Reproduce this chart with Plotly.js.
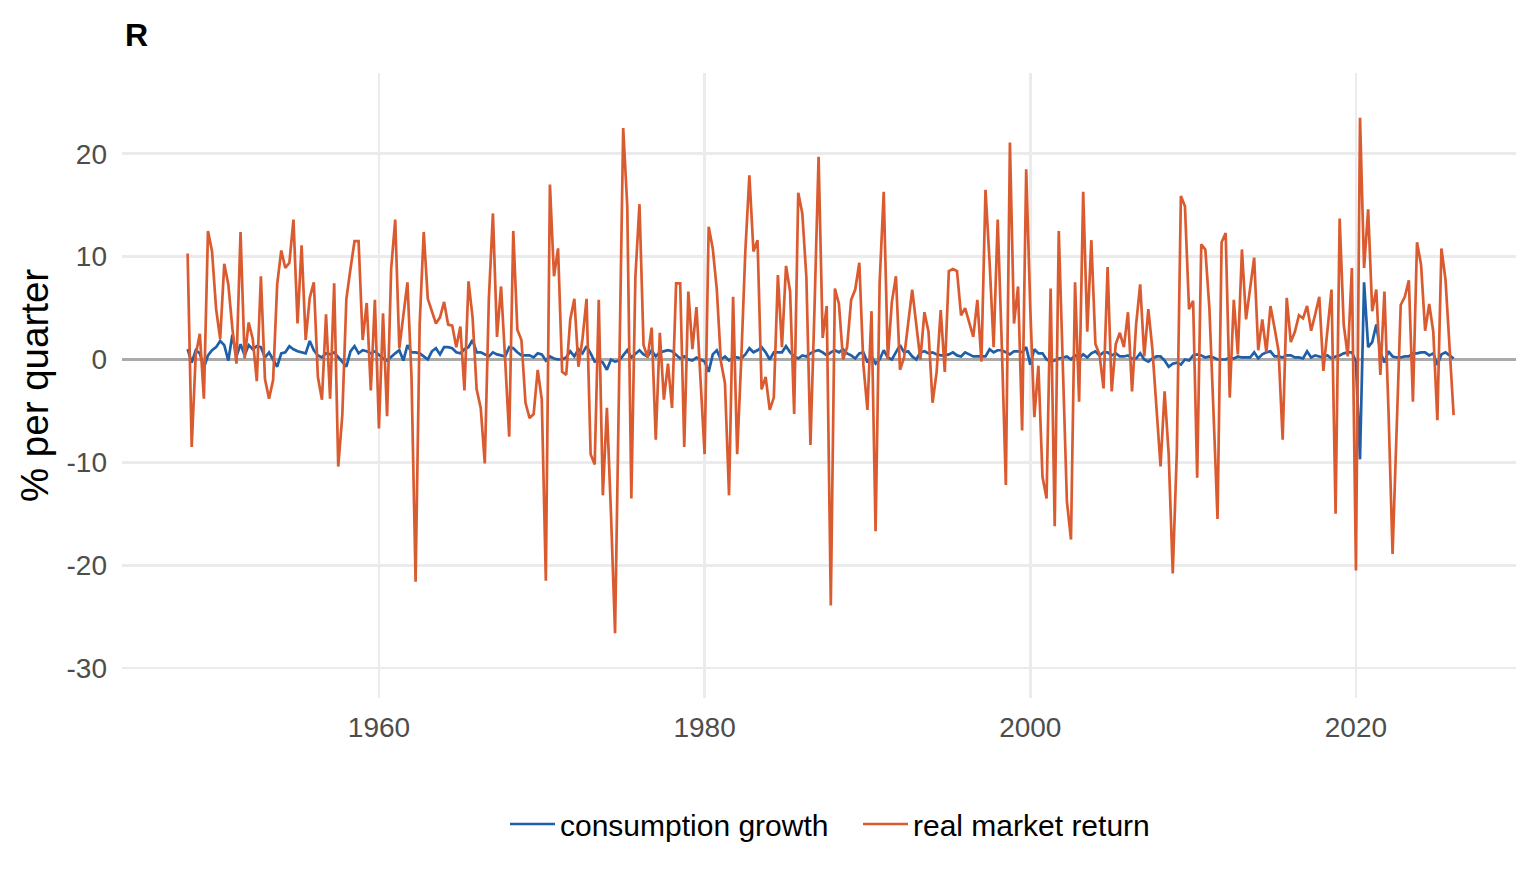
<!DOCTYPE html>
<html>
<head>
<meta charset="utf-8">
<script src="https://cdn.plot.ly/plotly-3.0.1.min.js"></script>
<style>
  html, body { margin: 0; padding: 0; background: #ffffff; }
  #chart { width: 1536px; height: 883px; }
</style>
</head>
<body>
<div id="chart"></div>
<script>
// quarterly observations, first one dated 1948.25, one value per quarter
const FIRST_QUARTER = 1948.25;

// consumption growth, % per quarter
const consumptionGrowth = [
  1.0, -0.3, 0.9, 0.6, -0.8, 0.4, 0.9, 1.2, 1.8, 1.4, -0.1, 2.4, 0.3, 1.5, 0.4, 1.4,
  1.0, 1.3, 1.2, 0.2, 0.7, 0.0, -0.7, 0.6, 0.7, 1.3, 1.0, 0.8, 0.7, 0.6, 1.8,
  0.9, 0.4, 0.2, 0.6, 0.5, 0.7, 0.2, -0.2, -0.7, 0.8, 1.3, 0.6, 0.9, 0.8, 0.6,
  0.8, 0.4, 0.1, -0.1, 0.3, 0.6, 0.9, -0.1, 1.4, 0.7, 0.7, 0.6, 0.3, 0.0, 0.8,
  1.1, 0.5, 1.2, 1.2, 1.1, 0.7, 0.6, 1.0, 1.2, 1.9, 0.7, 0.7, 0.5, 0.3, 0.7,
  0.5, 0.4, 0.3, 1.2, 1.1, 0.7, 0.4, 0.4, 0.4, 0.2, 0.6, 0.5, -0.1, 0.3, 0.1,
  0.0, 0.0, 0.2, 0.8, 0.3, 1.0, 0.6, 1.3, 0.6, -0.2, -0.1, -0.3, -1.0, 0.0, -0.2, -0.1,
  0.4, 0.9, 0.2, 0.6, 0.9, 0.5, 0.3, 0.9, 0.3, 0.7, 0.8, 0.9, 0.8, 0.4, 0.1, 0.3,
  0.0, -0.1, 0.2, 0.0, -0.2, -1.2, 0.5, 0.9, 0.0, 0.3, -0.1, 0.2, 0.2, 0.1, 0.5,
  1.1, 0.7, 0.9, 1.2, 0.7, 0.0, 0.7, 0.7, 0.7, 1.3, 0.7, 0.3, 0.1, 0.4,
  0.3, 0.6, 0.8, 0.9, 0.7, 0.4, 0.7, 0.9, 0.7, 1.0, 0.6, 0.4, 0.1, 0.6, 0.7, -0.3,
  0.3, -0.4, 0.0, 0.9, 0.2, 0.0, 0.7, 1.4, 0.7, 0.8, 0.3, 0.0, 0.7, 0.8, 0.6, 0.7,
  0.5, 0.4, 0.4, 0.5, 0.7, 0.4, 0.3, 0.7, 0.5, 0.3, 0.3, 0.3, 0.3, 1.0, 0.7, 0.9,
  0.9, 0.7, 0.5, 0.8, 0.8, 0.7, 1.2, -0.5, 1.0, 0.6, 0.6, 0.0, -0.2, -0.1, 0.1,
  0.2, 0.3, 0.0, 0.4, 0.1, 0.5, 0.2, 0.6, 0.8, 0.4, 0.7, 0.7, 0.4, 0.6, 0.3, 0.3,
  0.4, 0.1, 0.1, 0.6, 0.0, -0.2, 0.1, 0.3, 0.3, -0.1, -0.7, -0.4, -0.3, -0.5, 0.0,
  -0.1, 0.4, 0.5, 0.4, 0.2, 0.3, 0.2, 0.0, 0.0, 0.0, 0.2, 0.1, 0.3, 0.2, 0.2,
  0.2, 0.7, 0.1, 0.5, 0.7, 0.8, 0.3, 0.3, 0.2, 0.4, 0.4, 0.2, 0.2, 0.1,
  0.8, 0.2, 0.4, 0.3, 0.2, 0.4, 0.1, 0.3, 0.4, 0.6, 0.7, 0.7, -0.2, -9.7, 7.5, 1.2,
  1.7, 3.4, 0.7, -0.3, 0.8, 0.3, 0.2, 0.2, 0.3, 0.3, 0.6, 0.6, 0.7, 0.7, 0.4, 0.6,
  -0.5, 0.5, 0.7, 0.4, 0.1
];

// real market return, % per quarter
const realMarketReturn = [
  10.3, -8.5, 0.5, 2.5, -3.8, 12.5, 10.5, 4.9, 2.0, 9.3, 7.3, 3.0, -0.4, 12.4, 0.1, 3.6,
  2.0, -2.1, 8.1, -1.9, -3.8, -2.0, 7.3, 10.6, 8.9, 9.4, 13.6, 3.5, 11.1, 1.9, 6.0,
  7.5, -1.7, -3.9, 4.4, -3.8, 7.4, -10.4, -5.4, 5.9, 8.8, 11.5, 11.5, 1.9, 5.5, -3.0,
  5.8, -6.7, 4.5, -5.5, 8.8, 13.6, 1.1, 4.1, 7.5, -1.7, -21.6, 3.4, 12.4, 5.9, 4.7,
  3.5, 4.1, 5.6, 3.4, 3.3, 1.2, 3.2, -3.0, 7.6, 4.1, -2.9, -4.7, -10.1, 5.9, 14.2,
  2.2, 7.1, 0.0, -7.5, 12.5, 2.9, 1.9, -4.2, -5.7, -5.3, -1.0, -3.9, -21.5, 17.0, 8.1,
  10.8, -1.2, -1.5, 3.9, 5.9, -0.7, 2.0, 5.9, -9.2, -10.2, 5.8, -13.2, -4.7, -15.0, -26.6, -2.0,
  22.5, 14.9, -13.5, 8.1, 15.1, 1.4, 0.2, 3.1, -7.8, 2.6, -3.9, -0.4, -4.7, 7.4, 7.4, -8.5,
  6.6, 1.0, 5.1, -2.0, -9.2, 12.9, 10.8, 6.8, -0.2, -2.3, -13.2, 6.1, -9.2, 0.0, 10.5,
  17.9, 10.5, 11.6, -2.9, -1.7, -4.9, -3.7, 8.2, 1.2, 9.1, 6.6, -5.3, 16.2, 14.2,
  8.0, -8.3, 5.0, 19.7, 2.1, 5.2, -23.9, 6.9, 5.4, 0.0, 1.2, 5.8, 6.8, 9.4, -0.5, -4.9,
  4.7, -16.7, 7.5, 16.3, 0.0, 5.6, 8.1, -1.0, 0.2, 3.4, 6.8, 3.4, 0.0, 4.6, 2.7, -4.2,
  -1.2, 4.8, -1.2, 8.6, 8.8, 8.6, 4.3, 5.0, 3.6, 2.2, 5.8, -0.2, 16.5, 9.5, 1.2, 13.6,
  1.4, -12.2, 21.1, 3.5, 7.1, -6.9, 18.5, 5.0, -5.6, -0.6, -11.4, -13.5, 6.9, -16.2, 12.5,
  -1.0, -13.8, -17.5, 7.5, -4.1, 16.3, 2.7, 11.6, 1.5, 0.5, -2.8, 9.0, -3.1, 1.5, 2.6, 1.2,
  4.6, -3.1, 3.4, 7.3, 0.3, 4.9, 1.0, -4.4, -10.4, -3.1, -9.2, -20.8, -9.0, 15.9, 14.9,
  4.9, 5.7, -11.5, 11.2, 10.7, 5.0, -5.0, -15.5, 11.4, 12.3, -3.7, 5.8, 0.5, 10.7, 3.9,
  6.8, 9.9, 0.9, 3.9, 0.7, 5.2, 3.1, 0.8, -7.8, 6.0, 1.7, 2.7, 4.3, 4.0,
  5.2, 2.8, 4.4, 6.1, -1.1, 3.0, 6.8, -15.0, 13.7, 3.4, 0.3, 8.9, -20.5, 23.5, 8.9, 14.6,
  4.7, 6.8, -1.5, 6.6, -5.0, -18.9, -6.0, 5.3, 6.1, 7.7, -4.1, 11.4, 9.2, 2.8, 5.4, 2.7,
  -5.9, 10.8, 7.8, 1.4, -5.4
];

const seriesNames = ['consumption growth', 'real market return'];
const seriesColors = ['#1f5fa9', '#db5b30'];

const yTickVals = [-30, -20, -10, 0, 10, 20];
const yTickText = ['-30', '-20', '-10', '0', '10', '20'];
const xTickVals = [1960, 1980, 2000, 2020];

const quarters = realMarketReturn.map((v, i) => FIRST_QUARTER + i * 0.25);

const FONT = 'Liberation Sans, Arial, Helvetica, sans-serif';

const traces = [consumptionGrowth, realMarketReturn].map((values, k) => ({
  x: quarters,
  y: values,
  type: 'scatter',
  mode: 'lines',
  name: seriesNames[k],
  line: { color: seriesColors[k], width: 2.7 }
}));

const layout = {
  width: 1536,
  height: 883,
  autosize: false,
  paper_bgcolor: '#ffffff',
  plot_bgcolor: '#ffffff',
  font: { family: FONT, color: '#000000' },
  margin: { l: 122, r: 20, t: 73, b: 185, pad: 0 },
  title: {
    text: '<b>R</b>',
    font: { family: FONT, size: 32, color: '#000000' },
    xref: 'container', x: 125 / 1536, xanchor: 'left',
    yref: 'container', y: 1 - 35 / 883, yanchor: 'middle'
  },
  xaxis: {
    range: [1944.22, 2029.83],
    tickmode: 'array',
    tickvals: xTickVals,
    ticks: '',
    showline: false,
    zeroline: false,
    showgrid: true,
    gridcolor: '#ebebeb',
    gridwidth: 2.6,
    tickfont: { family: FONT, size: 28, color: '#4d4d4d' },
    ticklabelstandoff: 10
  },
  yaxis: {
    range: [-32.9, 27.85],
    tickmode: 'array',
    tickvals: yTickVals,
    ticktext: yTickText,
    ticks: '',
    showline: false,
    showgrid: true,
    gridcolor: '#ebebeb',
    gridwidth: 2.6,
    zeroline: true,
    zerolinecolor: '#aaaaaa',
    zerolinewidth: 2.8,
    tickfont: { family: FONT, size: 28, color: '#4d4d4d' },
    ticklabelstandoff: 14,
    title: {
      text: '% per quarter',
      font: { family: FONT, size: 38.5, color: '#000000' },
      standoff: 6
    }
  },
  showlegend: true,
  legend: {
    orientation: 'h',
    x: (505 - 122) / 1394, xanchor: 'left',
    y: (698 - 824) / 625, yanchor: 'middle',
    bgcolor: 'rgba(0,0,0,0)',
    font: { family: FONT, size: 30, color: '#000000' },
    itemwidth: 45,
    entrywidth: 293,
    traceorder: 'normal'
  }
};

Plotly.newPlot('chart', traces, layout, { displayModeBar: false, staticPlot: true });
</script>
</body>
</html>
